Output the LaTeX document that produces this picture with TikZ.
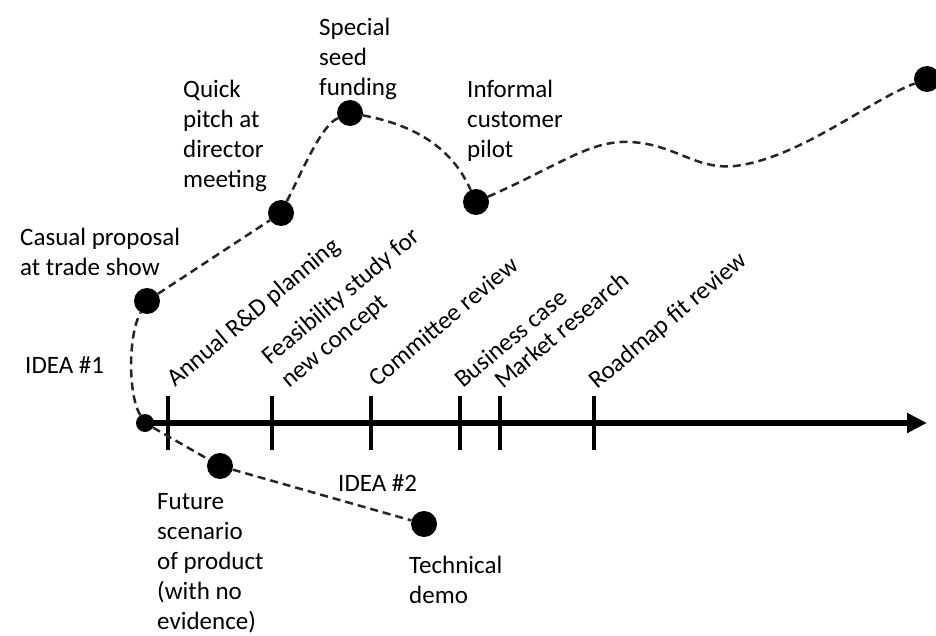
\documentclass[tikz,border=0pt]{standalone}
\usepackage{fontspec}
\setmainfont{Carlito}
\usetikzlibrary{arrows.meta, positioning}
\tikzstyle{dot} = [circle, fill=black, inner sep=0pt, minimum size=26pt]
\tikzstyle{start} = [circle, fill=black, inner sep=0pt, minimum size=18pt]
\tikzstyle{label} = [inner sep=0pt, align=left, anchor=north west, font=\fontsize{25}{30}\selectfont]
\tikzstyle{milestone} = [inner sep=0pt, align=left, rotate=40, anchor=base west, font=\fontsize{25}{30}\selectfont]
\tikzstyle{path} = [line width=2.5pt, dash pattern=on 8pt off 5pt, black!85]
\tikzstyle{axis} = [line width=6pt, -{Triangle[length=20pt,width=19pt]}]
\tikzstyle{tick} = [line width=4pt]

\begin{document}
\begin{tikzpicture}[x=1pt, y=-1pt]
    \useasboundingbox (0,0) rectangle (936,636);

    % Dots
    \node (origin) [start] at (145,423) {};
    \node (casual) [dot] at (147,301) {};
    \node (quick) [dot] at (281,213) {};
    \node (seed) [dot] at (350,113) {};
    \node (pilot) [dot] at (476,202) {};
    \node (final) [dot] at (927,79) {};
    \node (future) [dot] at (220,466) {};
    \node (demo) [dot] at (424,524) {};
    \coordinate (axisend) at (927,423);

    % Time axis and ticks
    \draw [axis] (origin.center) -- (axisend);
    \foreach \x/\name in {168/t1, 272/t2, 371/t3, 460/t4, 500/t5, 594/t6} {
        \coordinate (\name) at (\x,423);
        \draw [tick] ([yshift=27pt]\name) -- ([yshift=-27pt]\name);
    }

    % Milestone labels
    \node [milestone] at (175,388) {Annual R\&D planning};
    \node [milestone, anchor=south west] at (292,392) {Feasibility study for\\new concept};
    \node [milestone] at (377,388) {Committee review};
    \node [milestone] at (463,389) {Business case};
    \node [milestone] at (503,390) {Market research};
    \node [milestone] at (597,390) {Roadmap fit review};

    % Idea labels
    \node [label] at (20,228) {Casual proposal\\at trade show};
    \node [label] at (25,356) {IDEA \#1};
    \node [label] at (183,80) {Quick\\pitch at\\director\\meeting};
    \node [label] at (319,18) {Special\\seed\\funding};
    \node [label] at (467,80) {Informal\\customer\\pilot};
    \node [label] at (157,493) {Future\\scenario\\of product\\(with no\\evidence)};
    \node [label] at (338,474) {IDEA \#2};
    \node [label] at (409,556) {Technical\\demo};

    % Idea #1 path
    \draw [path] (origin) .. controls (128,395) and (128,335) .. (casual);
    \draw [path] (casual) -- (quick);
    \draw [path] (quick) .. controls (305,165) and (322,125) .. (seed);
    \draw [path] (seed) .. controls (415,125) and (452,148) .. (pilot);
    \draw [path] (pilot) .. controls (560,165) and (590,140) .. (630,142)
        .. controls (675,144) and (695,170) .. (735,166)
        .. controls (800,158) and (870,100) .. (final);

    % Idea #2 path
    \draw [path] (origin) -- (future);
    \draw [path] (future) -- (demo);

\end{tikzpicture}
\end{document}
